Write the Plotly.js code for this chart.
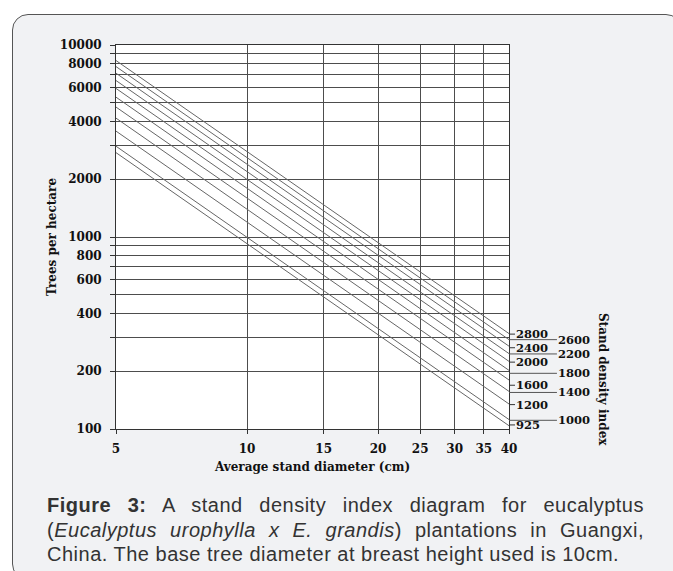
<!DOCTYPE html>
<html>
<head>
<meta charset="utf-8">
<script src="https://cdn.plot.ly/plotly-3.0.1.min.js"></script>
<style>
  html, body { margin:0; padding:0; background:#ffffff; width:673px; height:571px; overflow:hidden; }
  #frame { position:absolute; left:12px; top:14px; width:668px; height:564px; border:1.5px solid #555; border-radius:16px; background:#f1f2f4; }
  #plot { position:absolute; left:0; top:0; width:673px; height:571px; }
  #caption { position:absolute; left:47px; top:493px; width:597px; font-family:"Liberation Sans", Arial, sans-serif; font-size:20px; line-height:24.7px; color:#333; letter-spacing:0.5px; }
  #caption div { text-align:justify; text-align-last:justify; white-space:nowrap; }
  #caption div.last { text-align-last:left; }
</style>
</head>
<body>
<div id="frame"></div>
<div id="plot"></div>
<div id="caption">
  <div><b>Figure 3:</b> A stand density index diagram for eucalyptus</div>
  <div>(<i>Eucalyptus urophylla x E. grandis</i>) plantations in Guangxi,</div>
  <div class="last">China. The base tree diameter at breast height used is 10cm.</div>
</div>
<script>
// Stand density index levels and trees per hectare read at D = 5 cm and D = 40 cm
const sdiLevels = [2800, 2600, 2400, 2200, 2000, 1800, 1600, 1400, 1200, 1000, 925];
const treesAt5  = [8300, 7720, 7130, 6530, 5940, 5350, 4750, 4160, 3560, 2970, 2750];
const treesAt40 = [314, 292, 270, 247, 225, 202, 180, 157, 135, 112, 104];
const diameterRange = [5, 40];

// where each SDI label sits on the right-hand scale (trees per hectare)
const labelTrees = [312, 292, 265, 246, 223, 195, 169, 155, 134, 111, 105];
// labels placed close to the axis (short tick) vs. further out (long leader)
const longLabels = [2600, 2200, 1800, 1400, 1000];

const xTicks = [5, 10, 15, 20, 25, 30, 35, 40];
const xTickText = ['5', '10', '15', '20', '25', '30', '35', '40'];
const yTicks = [100,200,300,400,500,600,700,800,900,1000,2000,3000,4000,5000,6000,7000,8000,9000,10000];
const yTickText = ['100','200','','400','','600','','800','','1000','2000','','4000','','6000','','8000','','10000'];

const yRange = [2, 4];
const serif = '"DejaVu Serif", "Liberation Serif", serif';
const boldFont = (size) => ({ family: serif, size: size, color: '#111', weight: 'bold' });

const traces = sdiLevels.map((s, i) => ({
  type: 'scatter', mode: 'lines', name: 'SDI ' + s,
  x: diameterRange, y: [treesAt5[i], treesAt40[i]],
  line: { color: '#666666', width: 1 }, hoverinfo: 'skip', showlegend: false
}));

const toPaper = (n) => (Math.log10(n) - yRange[0]) / (yRange[1] - yRange[0]);
const shapes = [];
const annotations = [];
sdiLevels.forEach((s, i) => {
  const yv = toPaper(labelTrees[i]);
  const isLong = longLabels.includes(s);
  shapes.push({ type: 'line', xref: 'paper', yref: 'paper', x0: 1, x1: isLong ? 1.122 : 1.0153, y0: yv, y1: yv,
                line: { color: isLong ? '#555' : '#333', width: 1 } });
  annotations.push({ xref: 'paper', yref: 'paper', x: isLong ? 1.1225 : 1.0158, y: yv, xanchor: 'left', yanchor: 'middle',
                     text: String(s), showarrow: false, borderpad: 0, font: boldFont(11.5) });
});
annotations.push({ xref: 'paper', yref: 'paper', x: 1.239, y: 0.128, xanchor: 'center', yanchor: 'middle',
                   text: 'Stand density index', textangle: 90, showarrow: false, font: boldFont(12) });

const layout = {
  width: 673, height: 571,
  margin: { l: 116, r: 164, t: 45, b: 142 },
  paper_bgcolor: 'rgba(0,0,0,0)', plot_bgcolor: '#ffffff',
  showlegend: false,
  font: boldFont(12),
  xaxis: {
    type: 'log', range: [Math.log10(5), Math.log10(40)],
    tickmode: 'array', tickvals: xTicks, ticktext: xTickText,
    showgrid: true, gridcolor: '#4d4d4d', gridwidth: 1,
    showline: true, linecolor: '#333', linewidth: 1, mirror: true,
    ticks: 'outside', ticklen: 4, tickcolor: '#333', ticklabelstandoff: 5,
    tickfont: boldFont(12),
    zeroline: false, automargin: false,
    title: { text: 'Average stand diameter (cm)', standoff: 7, font: boldFont(12) }
  },
  yaxis: {
    type: 'log', range: yRange,
    tickmode: 'array', tickvals: yTicks, ticktext: yTickText,
    showgrid: true, gridcolor: '#4d4d4d', gridwidth: 1,
    showline: true, linecolor: '#333', linewidth: 1, mirror: true,
    ticks: 'outside', ticklen: 5, tickcolor: '#333', ticklabelstandoff: 6,
    tickfont: boldFont(12),
    zeroline: false, automargin: false,
    title: { text: 'Trees per hectare', standoff: 0, font: boldFont(12) }
  },
  shapes: shapes,
  annotations: annotations
};

Plotly.newPlot('plot', traces, layout, { staticPlot: true, displayModeBar: false });
</script>
</body>
</html>
